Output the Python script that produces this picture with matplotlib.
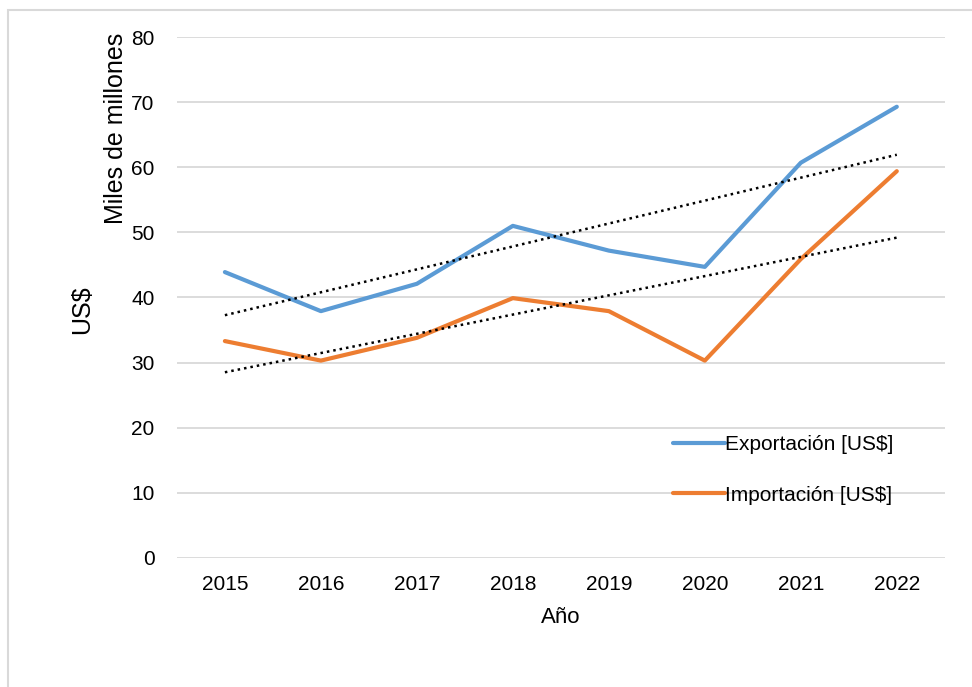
import numpy as np
import matplotlib.pyplot as plt
from matplotlib.patches import Rectangle

plt.rcParams['font.family'] = ['Liberation Sans', 'DejaVu Sans']

years = [2015, 2016, 2017, 2018, 2019, 2020, 2021, 2022]
exportacion = [43.9, 37.9, 42.1, 51.0, 47.2, 44.7, 60.7, 69.3]
importacion = [33.3, 30.3, 33.8, 39.9, 37.9, 30.3, 45.9, 59.4]

fig = plt.figure(figsize=(9.72, 6.87), dpi=100)
ax = fig.add_axes([0.182, 0.188, 0.790, 0.758])

# marco gris del grafico
fig.patches.append(Rectangle((8 / 972, -0.1), 1.2, 1 - 10 / 687 + 0.1,
                             transform=fig.transFigure, fill=False,
                             edgecolor='#d9d9d9', linewidth=1.5))

x = np.array(years)
ax.plot(x, exportacion, color='#5B9BD5', lw=3, label='Exportación [US$]',
        solid_capstyle='round', zorder=3)
ax.plot(x, importacion, color='#ED7D31', lw=3, label='Importación [US$]',
        solid_capstyle='round', zorder=3)

# lineas de tendencia
for serie in (exportacion, importacion):
    m, b = np.polyfit(x, serie, 1)
    ax.plot(x, m * x + b, color='black', lw=1.8, linestyle=(0, (1, 1.6)), zorder=4)

ax.set_xlim(2014.5, 2022.5)
ax.set_ylim(0, 80)
ax.set_yticks(range(0, 81, 10))
ax.set_xticks(years)
ax.grid(axis='y', color='#d9d9d9', lw=1.3)
ax.set_axisbelow(True)
for s in ax.spines.values():
    s.set_visible(False)
ax.tick_params(length=0, labelsize=15, pad=12)
ax.tick_params(axis='y', pad=16)

ax.set_xlabel('Año', fontsize=16, labelpad=10)
fig.text(82 / 972, 1 - 310 / 687, 'US$', rotation=90, fontsize=18,
         ha='center', va='center')
fig.text(116 / 972, 1 - 128 / 687, 'Miles de millones', rotation=90, fontsize=18,
         ha='center', va='center')

ax.legend(loc='lower right', bbox_to_anchor=(0.958, 0.066), frameon=False,
          fontsize=15, labelspacing=1.5, handlelength=2.5, handletextpad=0.0)

fig.savefig('out.png', dpi=100)
